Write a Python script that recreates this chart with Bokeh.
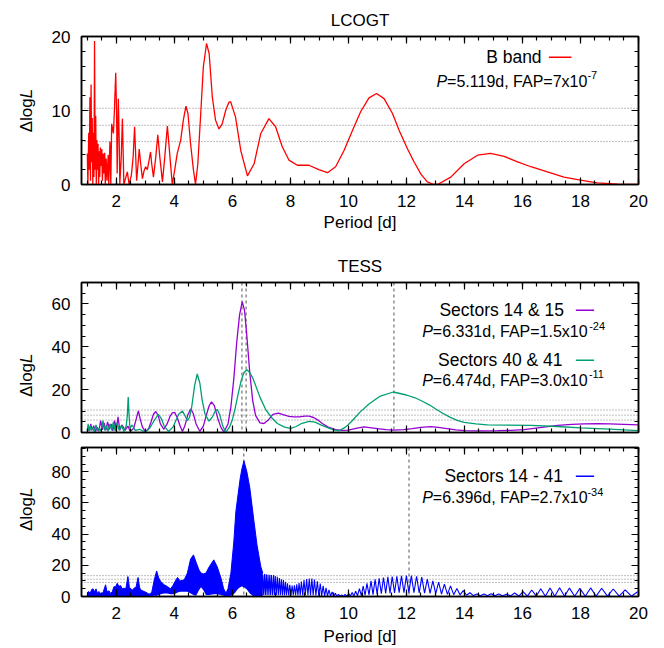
from bokeh.plotting import figure
from bokeh.models import Range1d, LinearAxis, SingleIntervalTicker, Span, Label, Arrow
from bokeh.layouts import column, row
from bokeh.embed import file_html
from bokeh.resources import INLINE

FONT = "Liberation Sans"
RED, PURPLE, GREEN, BLUE = "#ff0000", "#9400d3", "#009e73", "#0000ff"

# ---------------- data ----------------
# LCOGT B band periodogram: (period [d], dlogL)
lco_points = [
    (1.00, 4.2), (1.02, 0.0), (1.05, 7.0), (1.07, 2.0), (1.09, 11.8), (1.11, 0.5),
    (1.13, 13.5), (1.15, 3.0), (1.17, 9.0), (1.19, 0.0), (1.21, 7.0), (1.23, 1.0),
    (1.25, 19.4), (1.27, 2.0), (1.29, 9.3), (1.31, 0.0), (1.33, 6.0), (1.35, 2.0),
    (1.37, 5.5), (1.39, 0.0), (1.41, 4.5), (1.43, 1.0), (1.45, 5.0), (1.47, 2.5),
    (1.50, 4.8), (1.52, 0.5), (1.55, 4.2), (1.57, 1.5), (1.60, 4.3), (1.62, 0.0),
    (1.65, 3.5), (1.68, 0.5), (1.72, 4.0), (1.74, 0.0), (1.78, 5.8), (1.81, 0.0),
    (1.84, 8.2), (1.90, 6.9), (1.93, 9.6), (1.98, 15.1), (2.01, 9.6), (2.03, 1.5),
    (2.07, 11.6), (2.10, 6.0), (2.12, 0.0), (2.17, 3.7), (2.21, 8.9), (2.24, 3.7),
    (2.26, 0.0), (2.33, 1.0), (2.38, 1.7), (2.44, 0.0), (2.52, 1.3), (2.58, 3.7),
    (2.63, 7.8), (2.67, 3.7), (2.70, 0.5), (2.75, 2.8), (2.79, 4.8), (2.84, 2.8),
    (2.90, 0.8), (2.96, 1.9), (3.01, 2.4), (3.07, 2.0), (3.13, 3.3), (3.18, 4.4),
    (3.22, 2.8), (3.28, 1.0), (3.36, 3.7), (3.43, 6.7), (3.50, 3.7), (3.59, 0.35),
    (3.67, 3.7), (3.76, 7.9), (3.85, 3.7), (3.93, 0.0), (4.01, 1.9), (4.10, 4.2),
    (4.22, 6.0), (4.31, 8.7), (4.40, 10.6), (4.47, 9.6), (4.56, 5.5), (4.66, 1.9),
    (4.73, 0.0), (4.81, 2.8), (4.91, 9.6), (5.00, 15.9), (5.11, 19.05), (5.20, 17.7),
    (5.31, 11.8), (5.42, 8.7), (5.54, 7.5), (5.65, 8.2), (5.77, 10.0), (5.88, 11.1),
    (5.94, 11.2), (6.11, 9.1), (6.29, 4.6), (6.52, 1.17), (6.75, 2.8), (6.98, 6.9),
    (7.26, 8.9), (7.49, 7.8), (7.72, 5.1), (7.95, 3.3), (8.24, 2.6), (8.64, 2.6),
    (8.98, 2.0), (9.28, 1.6), (9.56, 2.4), (9.85, 4.6), (10.14, 7.3), (10.43, 9.9),
    (10.71, 11.7), (10.97, 12.3), (11.23, 11.6), (11.52, 9.6), (11.75, 7.3),
    (12.04, 4.8), (12.27, 3.0), (12.50, 1.4), (12.72, 0.35), (12.95, 0.0),
    (13.07, 0.0), (13.53, 1.0), (13.99, 2.8), (14.45, 3.96), (14.90, 4.2),
    (15.37, 3.8), (15.83, 3.06), (16.29, 2.4), (16.86, 1.7), (17.43, 1.0),
    (18.00, 0.58), (18.58, 0.23), (19.27, 0.05), (19.96, 0.0),
]
lco_fap_levels = [10.3, 8.0, 5.8]

# TESS sectors 14 & 15
s1415_points = [
    (1.00, 0.5), (1.04, 3.0), (1.08, 0.8), (1.12, 4.0), (1.16, 1.0), (1.22, 3.2),
    (1.28, 0.4), (1.34, 2.5), (1.40, 0.6), (1.46, 5.5), (1.52, 1.2), (1.58, 4.5),
    (1.64, 1.0), (1.70, 5.0), (1.76, 1.5), (1.82, 4.0), (1.88, 0.8), (1.94, 5.5),
    (2.00, 1.5), (2.06, 7.3), (2.12, 1.0), (2.20, 3.5), (2.30, 1.0), (2.40, 3.0),
    (2.48, 0.5), (2.60, 2.0), (2.68, 6.0), (2.76, 10.1), (2.83, 6.0), (2.90, 2.5),
    (3.01, 0.3), (3.12, 2.0), (3.20, 5.0), (3.28, 8.5), (3.36, 9.8), (3.44, 8.0),
    (3.52, 4.0), (3.64, 1.5), (3.75, 4.0), (3.85, 7.5), (3.93, 9.2), (4.01, 9.4),
    (4.10, 7.0), (4.20, 3.0), (4.28, 0.5), (4.36, 3.0), (4.46, 8.0), (4.56, 11.0),
    (4.65, 9.0), (4.75, 4.0), (4.88, 0.5), (5.00, 3.0), (5.10, 8.0), (5.20, 12.5),
    (5.28, 14.3), (5.38, 12.5), (5.50, 6.5), (5.60, 2.5), (5.71, 0.2), (5.85, 4.0),
    (5.95, 12.0), (6.05, 25.0), (6.15, 42.0), (6.25, 55.0), (6.34, 61.0), (6.42, 57.0),
    (6.50, 45.0), (6.60, 28.0), (6.70, 15.0), (6.80, 8.0), (6.95, 4.5), (7.09, 4.2),
    (7.25, 6.0), (7.40, 8.5), (7.58, 9.0), (7.75, 8.3), (7.95, 7.5), (8.12, 7.3),
    (8.30, 7.3), (8.50, 7.6), (8.64, 7.6), (8.80, 7.0), (8.95, 5.8), (9.10, 4.2),
    (9.30, 2.5), (9.56, 1.3), (9.80, 1.0), (10.00, 1.1), (10.30, 2.0), (10.54, 2.6),
    (10.80, 2.2), (11.00, 1.8), (11.30, 1.3), (11.57, 1.1), (11.90, 1.3), (12.20, 1.8),
    (12.50, 2.4), (12.84, 2.7), (13.10, 2.4), (13.40, 1.8), (13.70, 1.2), (13.99, 0.9),
    (14.50, 0.8), (15.14, 0.9), (15.60, 1.0), (16.06, 1.3), (16.60, 2.3), (17.21, 3.3),
    (17.70, 3.8), (18.12, 4.0), (18.60, 4.1), (19.00, 4.0), (19.50, 3.8), (20.00, 3.6),
]
# TESS sectors 40 & 41
s4041_points = [
    (1.00, 1.0), (1.03, 4.0), (1.06, 0.5), (1.10, 3.0), (1.14, 1.0), (1.18, 2.5),
    (1.24, 0.3), (1.30, 3.5), (1.36, 0.8), (1.42, 2.0), (1.48, 0.5), (1.54, 5.5),
    (1.60, 1.0), (1.66, 3.0), (1.72, 0.5), (1.78, 4.0), (1.84, 1.0), (1.90, 5.0),
    (1.96, 0.8), (2.02, 4.5), (2.10, 1.0), (2.18, 3.5), (2.26, 0.5), (2.34, 3.0),
    (2.38, 8.0), (2.41, 16.5), (2.44, 8.0), (2.47, 2.0), (2.55, 3.5), (2.65, 1.0),
    (2.80, 1.5), (3.00, 0.2), (3.15, 2.0), (3.30, 5.5), (3.45, 8.5), (3.55, 6.5),
    (3.65, 3.0), (3.80, 0.5), (3.95, 2.5), (4.05, 5.5), (4.15, 8.5), (4.28, 10.0),
    (4.38, 7.5), (4.45, 5.5), (4.52, 7.0), (4.60, 12.0), (4.70, 22.0), (4.79, 27.3),
    (4.88, 23.0), (4.96, 15.0), (5.05, 9.0), (5.19, 5.3), (5.30, 7.0), (5.40, 9.8),
    (5.48, 10.8), (5.57, 8.0), (5.67, 3.0), (5.77, 0.1), (5.90, 2.5), (6.00, 6.0),
    (6.10, 11.5), (6.20, 18.0), (6.30, 24.0), (6.40, 28.0), (6.50, 29.3), (6.60, 28.0),
    (6.70, 25.5), (6.80, 22.0), (6.95, 16.5), (7.15, 10.7), (7.35, 7.0), (7.55, 4.2),
    (7.80, 2.5), (8.01, 1.9), (8.20, 2.8), (8.40, 4.3), (8.65, 5.2), (8.85, 4.8),
    (9.05, 3.6), (9.30, 2.2), (9.50, 1.2), (9.68, 0.8), (9.90, 2.5), (10.10, 5.0),
    (10.40, 9.5), (10.71, 13.3), (11.10, 17.0), (11.55, 18.9), (12.00, 17.5),
    (12.30, 16.2), (12.55, 14.6), (12.80, 12.8), (13.01, 11.0), (13.25, 9.0),
    (13.50, 7.2), (13.75, 5.7), (13.99, 4.7), (14.40, 4.0), (14.79, 3.6), (15.50, 3.4),
    (16.29, 3.3), (17.20, 2.8), (18.00, 2.2), (19.00, 1.6), (20.00, 0.9),
]
tess_fap_levels = [10.5, 8.1, 5.8]
tess_marks = [6.331, 6.474, 11.57]

# TESS sectors 14 - 41: unresolved part as envelope (period, upper, lower)
all_envelope = [
    (1.00, 2.5, 0), (1.05, 3.2, 0), (1.10, 2.0, 0), (1.15, 4.5, 0), (1.20, 4.9, 0),
    (1.25, 3.0, 0), (1.30, 4.9, 0), (1.35, 2.0, 0), (1.40, 3.2, 0), (1.45, 2.0, 0),
    (1.50, 1.5, 0), (1.55, 3.0, 0), (1.63, 7.5, 0), (1.68, 3.0, 0), (1.75, 3.6, 0),
    (1.80, 2.0, 0), (1.86, 3.0, 0), (1.92, 6.4, 0), (1.97, 6.0, 0), (2.03, 8.5, 0),
    (2.09, 6.5, 0), (2.15, 7.0, 0), (2.20, 5.0, 0), (2.26, 5.3, 0), (2.33, 5.0, 0),
    (2.40, 12.8, 0), (2.45, 6.0, 0), (2.49, 5.3, 0), (2.55, 4.0, 0), (2.61, 5.3, 0),
    (2.68, 6.0, 0), (2.75, 12.2, 0), (2.80, 6.0, 0), (2.84, 4.3, 0), (2.92, 3.5, 0),
    (3.01, 2.8, 0), (3.13, 1.5, 0), (3.22, 2.5, 0), (3.30, 10.0, 0.5), (3.39, 16.4, 0.5),
    (3.46, 12.0, 1.0), (3.53, 9.6, 1.5), (3.65, 7.5, 2.0), (3.76, 6.4, 2.0),
    (3.87, 4.9, 1.5), (3.95, 7.0, 1.5), (4.05, 10.5, 2.0), (4.11, 12.2, 2.5),
    (4.20, 10.0, 3.0), (4.34, 10.7, 3.0), (4.45, 15.0, 3.0), (4.56, 24.0, 2.0),
    (4.66, 26.7, 1.0), (4.75, 22.0, 0.5), (4.85, 17.0, 4.0), (4.92, 15.0, 6.0),
    (5.00, 14.5, 4.0), (5.09, 15.0, 1.0), (5.20, 19.0, 1.0), (5.36, 23.5, 1.5),
    (5.48, 19.0, 1.5), (5.61, 11.7, 1.0), (5.70, 5.0, 0.5), (5.78, 2.1, 0),
    (5.85, 5.0, 0), (5.95, 15.0, 0.5), (6.05, 35.0, 1.5), (6.12, 54.4, 3.0),
    (6.20, 66.0, 5.0), (6.27, 75.7, 6.0), (6.33, 82.0, 6.4), (6.40, 87.0, 6.0),
    (6.50, 80.0, 4.5), (6.60, 70.0, 2.0), (6.74, 49.0, 0), (6.85, 33.0, 0),
    (6.98, 19.2, 0), (7.05, 15.0, 0),
]
# resolved oscillation beyond 7 d: (period, dlogL), troughs and peaks
all_comb = [
    (7.00, 1.0), (7.05, 14.0), (7.08, 1.0), (7.11, 14.4), (7.14, 1.0), (7.17, 14.2),
    (7.20, 1.0), (7.23, 14.0), (7.26, 1.0), (7.29, 13.9), (7.32, 1.0), (7.35, 13.8),
    (7.385, 1.0), (7.42, 13.7), (7.45, 1.0), (7.48, 13.2), (7.515, 1.0), (7.55, 12.6),
    (7.585, 1.0), (7.62, 11.8), (7.655, 1.0), (7.69, 11.0), (7.725, 0.8), (7.76, 10.5),
    (7.795, 0.8), (7.83, 9.5), (7.865, 0.8), (7.90, 8.5), (7.94, 0.8), (7.98, 7.5),
    (8.02, 0.8), (8.06, 7.0), (8.10, 0.8), (8.14, 7.2), (8.18, 0.8), (8.22, 7.8),
    (8.26, 0.8), (8.30, 8.6), (8.34, 0.8), (8.38, 9.6), (8.425, 0.8), (8.47, 10.6),
    (8.515, 0.8), (8.56, 11.2), (8.605, 0.8), (8.65, 11.6), (8.695, 0.8), (8.74, 11.5),
    (8.785, 0.8), (8.83, 10.8), (8.88, 0.6), (8.93, 9.8), (8.98, 0.5), (9.03, 8.3),
    (9.08, 0.4), (9.13, 6.8), (9.18, 0.3), (9.23, 5.5), (9.28, 0.2), (9.33, 4.2),
    (9.385, 0.2), (9.44, 3.0), (9.495, 0.1), (9.55, 2.0), (9.605, 0.1), (9.66, 1.3),
    (9.715, 0.1), (9.77, 1.0), (9.83, 0.1), (9.89, 1.3), (9.95, 0.2), (10.01, 1.8),
    (10.07, 0.3), (10.13, 2.6), (10.19, 0.4), (10.25, 3.4), (10.315, 0.5), (10.38, 5.0),
    (10.445, 0.6), (10.51, 6.6), (10.575, 0.8), (10.64, 8.4), (10.71, 1.0), (10.78, 10.0),
    (10.85, 1.2), (10.92, 11.0), (10.99, 1.5), (11.06, 11.6), (11.135, 1.8), (11.21, 12.2),
    (11.285, 2.0), (11.36, 12.6), (11.435, 2.2), (11.51, 12.8), (11.59, 2.3), (11.67, 13.0),
    (11.75, 2.4), (11.83, 13.2), (11.915, 2.5), (12.00, 13.4), (12.085, 2.5), (12.17, 13.4),
    (12.26, 2.4), (12.35, 13.0), (12.44, 2.3), (12.53, 12.4), (12.625, 2.2), (12.72, 11.2),
    (12.815, 2.0), (12.91, 10.0), (13.01, 1.8), (13.11, 9.2), (13.21, 1.6), (13.31, 8.0),
    (13.415, 1.4), (13.52, 6.8), (13.63, 1.2), (13.74, 5.2), (13.85, 1.0), (13.96, 3.8),
    (14.075, 0.8), (14.19, 2.4), (14.31, 0.6), (14.43, 1.6), (14.55, 0.5), (14.67, 1.6),
    (14.795, 0.5), (14.92, 1.8), (15.05, 0.5), (15.18, 1.6), (15.315, 0.5), (15.45, 1.5),
    (15.59, 0.4), (15.73, 2.2), (15.875, 0.3), (16.02, 3.2), (16.17, 0.2), (16.32, 4.2),
    (16.475, 0.2), (16.63, 5.0), (16.79, 0.2), (16.95, 5.5), (17.115, 0.2), (17.28, 5.6),
    (17.45, 0.2), (17.62, 5.4), (17.80, 0.2), (17.98, 5.2), (18.165, 0.2), (18.35, 5.5),
    (18.54, 0.2), (18.73, 5.3), (18.93, 0.2), (19.13, 4.8), (19.335, 0.2), (19.54, 4.2),
    (19.755, 0.2), (19.97, 3.0),
]
all_fap_levels = [13.4, 11.1, 9.0]
all_marks = [6.396, 12.09]

x_ticks_interval = 2
# ---------------------------------------------------------------


def unzip(pts):
    return [p[0] for p in pts], [p[1] for p in pts]


def style_axis(ax, labels, standoff):
    ax.axis_line_color = "black"
    ax.axis_line_width = 1.5
    ax.major_tick_in, ax.major_tick_out = 7, 0
    ax.minor_tick_in, ax.minor_tick_out = 4, 0
    ax.major_tick_line_color = "black"
    ax.minor_tick_line_color = "black"
    ax.major_tick_line_width = 1.2
    ax.minor_tick_line_width = 1.2
    if labels:
        ax.major_label_text_font = FONT
        ax.major_label_text_font_size = "17px"
        ax.major_label_text_color = "black"
        ax.major_label_standoff = standoff
    else:
        ax.major_label_text_font_size = "1px"
        ax.major_label_text_color = None
        ax.major_label_standoff = 0


def panel(height, top, bottom, ymax, yint, yminor, xlabels, title, label_standoff=1):
    p = figure(width=624, height=height, x_range=Range1d(0.8, 20), y_range=Range1d(0, ymax),
               x_axis_type=None, y_axis_type=None, output_backend="svg",
               toolbar_location=None, min_border_left=41, min_border_right=26,
               min_border_top=top, min_border_bottom=bottom)
    p.outline_line_color = "black"
    p.outline_line_width = 1.5
    if title:
        p.title.text = title
        p.title.align = "center"
        p.title.vertical_align = "top"
        p.title.text_font = FONT
        p.title.text_font_size = "17px"
        p.title.text_font_style = "normal"
        p.title.text_color = "black"
        p.title.standoff = 10
    xt = SingleIntervalTicker(interval=x_ticks_interval, num_minor_ticks=4)
    yt = SingleIntervalTicker(interval=yint, num_minor_ticks=yminor)
    for loc in ("below", "above"):
        ax = LinearAxis(ticker=xt)
        style_axis(ax, loc == "below" and xlabels, 10)
        if loc == "below" and xlabels:
            ax.axis_label = "Period [d]"
            ax.axis_label_text_font = FONT
            ax.axis_label_text_font_size = "17px"
            ax.axis_label_text_font_style = "normal"
            ax.axis_label_text_color = "black"
            ax.axis_label_standoff = label_standoff
        p.add_layout(ax, loc)
    for loc in ("left", "right"):
        ax = LinearAxis(ticker=yt)
        style_axis(ax, loc == "left", 11)
        p.add_layout(ax, loc)
    return p


def label_strip(height, y_split):
    """Narrow figure at the left holding the rotated 'ΔlogL' label (L in italics)."""
    s = figure(width=40, height=height, x_range=Range1d(0, 40), y_range=Range1d(0, height),
               x_axis_type=None, y_axis_type=None, output_backend="svg",
               toolbar_location=None, min_border=0)
    s.outline_line_color = None
    s.add_layout(Label(x=26, y=y_split, text="\u0394log", text_font=FONT, text_font_size="17px",
                       text_align="right", text_baseline="middle", angle=1.5708,
                       text_color="black"))
    s.add_layout(Label(x=26, y=y_split, text="L", text_font=FONT, text_font_size="17px",
                       text_font_style="italic", text_align="left", text_baseline="middle",
                       angle=1.5708, text_color="black"))
    return s


def text(p, x, y, s, size="17px", align="left", style="normal", x_offset=0, y_offset=0):
    p.add_layout(Label(x=x, y=y, text=s, text_font=FONT, text_font_size=size,
                       text_align=align, text_baseline="middle", text_font_style=style,
                       x_offset=x_offset, y_offset=y_offset, text_color="black"))


def legend_entry(p, x_right, y, s, color, x0, x1):
    text(p, x_right, y, s, size="17.5px", align="right")
    p.add_layout(Arrow(end=None, x_start=x0, y_start=y, x_end=x1, y_end=y,
                       line_color=color, line_width=1.5))


def fap_text(p, x0, y, body, x_sup, sup):
    text(p, x0, y, "P", size="16px", style="italic")
    text(p, x0, y, body, size="16px", x_offset=10.5)
    text(p, x_sup, y, sup, size="11px", y_offset=6)


def hlines(p, levels):
    for v in levels:
        p.add_layout(Span(location=v, dimension="width", line_color="#7f7f7f",
                          line_dash="1 2", line_width=1, level="underlay"))


def vlines(p, marks):
    for v in marks:
        p.add_layout(Span(location=v, dimension="height", line_color="#555555",
                          line_dash="3 3", line_width=1, level="underlay"))


# ---- panel 1: LCOGT ----
p1 = panel(236, 36, 52, 20, 10, 5, True, "LCOGT", 3)
hlines(p1, lco_fap_levels)
x, y = unzip(lco_points)
p1.line(x, y, line_color=RED, line_width=1.3)
legend_entry(p1, 16.66, 17.2, "B band", RED, 16.91, 17.69)
fap_text(p1, 13.04, 13.96, "=5.119d, FAP=7x10", 18.24, "-7")

# ---- panel 2: TESS two sector pairs ----
p2 = panel(206, 46, 10, 70, 20, 4, False, "TESS")
hlines(p2, tess_fap_levels)
vlines(p2, tess_marks)
x, y = unzip(s1415_points)
p2.line(x, y, line_color=PURPLE, line_width=1.3)
x, y = unzip(s4041_points)
p2.line(x, y, line_color=GREEN, line_width=1.3)
legend_entry(p2, 17.43, 57.1, "Sectors 14 & 15", PURPLE, 17.84, 18.47)
fap_text(p2, 12.55, 47.1, "=6.331d, FAP=1.5x10", 18.30, "-24")
legend_entry(p2, 17.38, 33.7, "Sectors 40 & 41", GREEN, 17.84, 18.47)
fap_text(p2, 12.55, 24.3, "=6.474d, FAP=3.0x10", 18.29, "-11")

# ---- panel 3: TESS all sectors ----
p3 = panel(206, 5, 51, 95.6, 20, 4, True, None, 5)
hlines(p3, all_fap_levels)
vlines(p3, all_marks)
ex = [r[0] for r in all_envelope]
eu = [r[1] for r in all_envelope]
el = [r[2] for r in all_envelope]
p3.varea(x=ex, y1=el, y2=eu, fill_color=BLUE)
p3.line(ex, eu, line_color=BLUE, line_width=1)
x, y = unzip(all_comb)
p3.line(x, y, line_color=BLUE, line_width=1.1)
legend_entry(p3, 17.40, 77.1, "Sectors 14 - 41", BLUE, 17.84, 18.47)
fap_text(p3, 12.55, 63.5, "=6.396d, FAP=2.7x10", 18.24, "-34")

layout = column(row(label_strip(236, 137.5), p1),
                row(label_strip(206, 95.5), p2),
                row(label_strip(206, 137.5), p3))
open("out.html", "w").write(file_html(layout, INLINE))
